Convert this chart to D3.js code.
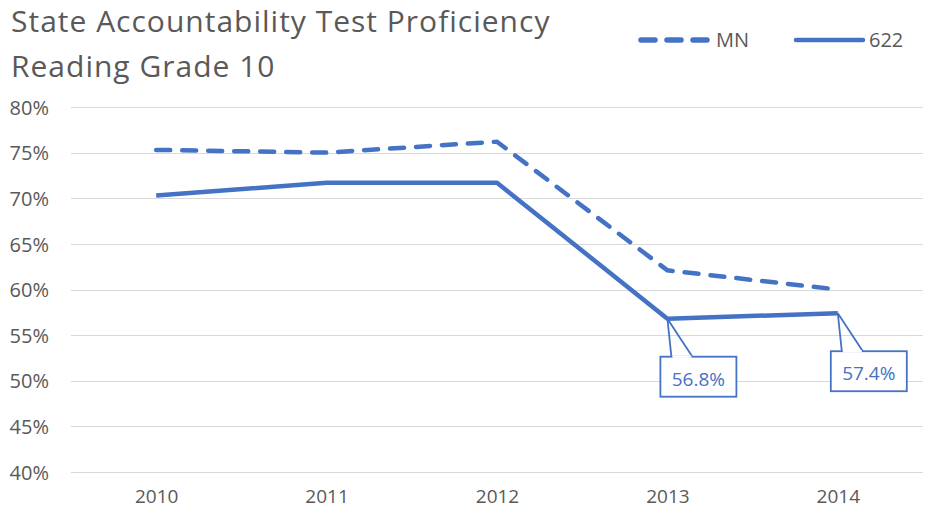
<!DOCTYPE html>
<html>
<head>
<meta charset="utf-8">
<script src="https://cdn.jsdelivr.net/npm/d3@7"></script>
<style>
  body { margin: 0; background: #fff; }
  svg text { font-family: "Open Sans", "Noto Sans", sans-serif; }
</style>
</head>
<body>
<svg id="chart" width="933" height="527"></svg>
<script>
// chart data
var years = ["2010", "2011", "2012", "2013", "2014"];
var mnValues = [0.753, 0.750, 0.762, 0.621, 0.600];
var districtValues = [0.703, 0.717, 0.717, 0.568, 0.574];
var yTicks = [0.40, 0.45, 0.50, 0.55, 0.60, 0.65, 0.70, 0.75, 0.80];
var labelledPoints = [3, 4]; // callout labels on 622, 2013 and 2014

var BLUE = "#4472C4";
var GREY = "#595959";

var svg = d3.select("#chart");

var x = d3.scalePoint().domain(years).range([71, 923]).padding(0.5);
var y = d3.scaleLinear().domain([0.40, 0.80]).range([472, 107]);

// gridlines
svg.append("g")
  .selectAll("line")
  .data(yTicks)
  .join("line")
  .attr("x1", 71).attr("x2", 923)
  .attr("y1", function(d){ return Math.round(y(d)) + 0.5; })
  .attr("y2", function(d){ return Math.round(y(d)) + 0.5; })
  .attr("stroke", "#d9d9d9")
  .attr("stroke-width", 1);

// y axis labels
var yAxis = d3.axisLeft(y).tickValues(yTicks).tickFormat(d3.format(".0%")).tickSize(0).tickPadding(0);
var yG = svg.append("g").attr("transform", "translate(49,0)").call(yAxis);
yG.select(".domain").remove();
yG.selectAll("text").attr("fill", GREY).attr("dy", "0.36em").style("font-size", "20px");

// x axis labels
var xAxis = d3.axisBottom(x).tickSize(0).tickPadding(0);
var xG = svg.append("g").attr("transform", "translate(0,489)").call(xAxis);
xG.select(".domain").remove();
xG.selectAll("text").attr("fill", GREY).style("font-size", "19px");

var line = d3.line()
  .x(function(d, i){ return x(years[i]); })
  .y(function(d){ return y(d); });

svg.append("path")
  .datum(mnValues)
  .attr("d", line)
  .attr("fill", "none")
  .attr("stroke", BLUE)
  .attr("stroke-width", 4.5)
  .attr("stroke-linecap", "round")
  .attr("stroke-dasharray", "14,12");

svg.append("path")
  .datum(districtValues)
  .attr("d", line)
  .attr("fill", "none")
  .attr("stroke", BLUE)
  .attr("stroke-width", 4.5)
  .attr("stroke-linejoin", "round");

// callout data labels
var callouts = svg.append("g")
  .selectAll("g")
  .data(labelledPoints)
  .join("g")
  .attr("transform", function(i){
    return "translate(" + x(years[i]) + "," + y(districtValues[i]) + ")";
  });

callouts.append("polyline")
  .attr("points", "4,38 0,0 25,38")
  .attr("fill", "none")
  .attr("stroke", BLUE)
  .attr("stroke-width", 1.8);

callouts.append("rect")
  .attr("x", -7).attr("y", 38)
  .attr("width", 76).attr("height", 40)
  .attr("fill", "#fff")
  .attr("stroke", BLUE)
  .attr("stroke-width", 1.8);

// break in the box top where the callout joins it
callouts.append("line")
  .attr("x1", 5).attr("x2", 24).attr("y1", 38).attr("y2", 38)
  .attr("stroke", "#fff").attr("stroke-width", 2.4);

callouts.append("text")
  .attr("x", 31).attr("y", 67)
  .attr("text-anchor", "middle")
  .attr("fill", BLUE)
  .style("font-size", "19px")
  .text(function(i){ return d3.format(".1%")(districtValues[i]); });

// title
var title = svg.append("text")
  .attr("fill", GREY)
  .style("font-size", "30px")
  .style("letter-spacing", "1px");
title.append("tspan").attr("x", 11).attr("y", 32).text("State Accountability Test Proficiency");
title.append("tspan").attr("x", 11).attr("y", 77).text("Reading Grade 10");

// legend
var legend = svg.append("g");
legend.append("line")
  .attr("x1", 641).attr("x2", 707).attr("y1", 40).attr("y2", 40)
  .attr("stroke", BLUE).attr("stroke-width", 5.5)
  .attr("stroke-linecap", "round").attr("stroke-dasharray", "14,12");
legend.append("text")
  .attr("x", 716).attr("y", 47)
  .attr("fill", GREY).style("font-size", "20px")
  .text("MN");
legend.append("line")
  .attr("x1", 796).attr("x2", 863).attr("y1", 40).attr("y2", 40)
  .attr("stroke", BLUE).attr("stroke-width", 4.5)
  .attr("stroke-linecap", "round");
legend.append("text")
  .attr("x", 869).attr("y", 47)
  .attr("fill", GREY).style("font-size", "20px")
  .text("622");
</script>
</body>
</html>
